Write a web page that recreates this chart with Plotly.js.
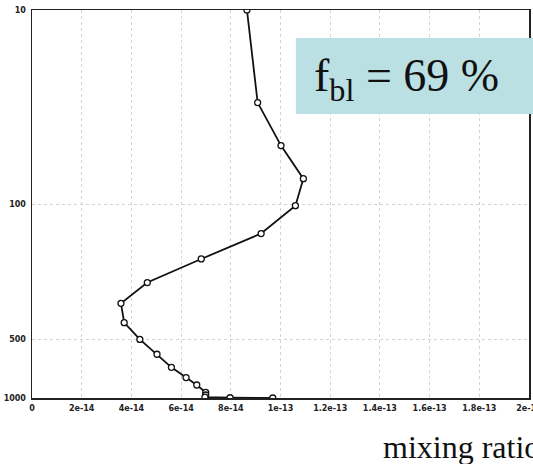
<!DOCTYPE html>
<html>
<head>
<meta charset="utf-8">
<script src="https://cdn.plot.ly/plotly-3.0.1.min.js"></script>
<style>html,body{margin:0;padding:0;background:#fff;overflow:hidden}#chart{width:533px;height:464px}</style>
</head>
<body>
<div id="chart"></div>
<script>
// mixing ratio values
const mixingRatio = [8.65e-14, 9.08e-14, 1.002e-13, 1.092e-13, 1.060e-13, 9.22e-14, 6.81e-14, 4.64e-14,
  3.58e-14, 3.71e-14, 4.34e-14, 5.03e-14, 5.61e-14, 6.20e-14, 6.63e-14, 6.99e-14, 6.99e-14, 6.96e-14, 7.97e-14, 9.69e-14];
// pressure levels (hPa)
const pressure = [10, 30, 50, 74, 102, 142, 192, 254, 325, 409, 499, 595, 695, 785, 857, 935, 965, 990, 997, 1000];
const xTickVals = [0, 2e-14, 4e-14, 6e-14, 8e-14, 1e-13, 1.2e-13, 1.4e-13, 1.6e-13, 1.8e-13, 2e-13];
const xTickText = ["0", "2e-14", "4e-14", "6e-14", "8e-14", "1e-13", "1.2e-13", "1.4e-13", "1.6e-13", "1.8e-13", "2e-13"];
const yTickVals = [10, 100, 500, 1000];
const yTickText = ["10", "100", "500", "1000"];
const boxLabel = "f<sub>bl</sub> = 69 %";
const xLabel = "mixing ratio";

const trace = {
  x: mixingRatio, y: pressure, type: 'scatter', mode: 'lines+markers',
  line: {color: '#111', width: 1.8},
  marker: {symbol: 'circle', size: 6, color: '#fff', line: {color: '#111', width: 1.3}},
  cliponaxis: true, hoverinfo: 'none'
};

const tickFont = {family: 'DejaVu Sans, Arial, sans-serif', size: 8, color: '#222', weight: 'bold'};

const layout = {
  width: 533, height: 464,
  margin: {l: 32, r: 4, t: 10, b: 66},
  paper_bgcolor: '#fff', plot_bgcolor: '#fff',
  showlegend: false,
  xaxis: {
    range: [0, 2e-13], tickmode: 'array', tickvals: xTickVals, ticktext: xTickText,
    showgrid: true, gridcolor: '#d4d4d4', griddash: 'dot', gridwidth: 1,
    showline: true, mirror: true, linecolor: '#222', linewidth: 1.5,
    ticks: '', tickfont: tickFont, zeroline: false, ticklabelstandoff: 2,
    ticklabeloverflow: 'allow'
  },
  yaxis: {
    type: 'log', range: [3, 1], tickmode: 'array', tickvals: yTickVals, ticktext: yTickText,
    showgrid: true, gridcolor: '#d4d4d4', griddash: 'dot', gridwidth: 1,
    showline: true, mirror: true, linecolor: '#222', linewidth: 1.5,
    ticks: '', tickfont: tickFont, zeroline: false, ticklabelstandoff: 3,
    ticklabeloverflow: 'allow'
  },
  shapes: [{
    type: 'rect', xref: 'paper', yref: 'paper',
    x0: 0.531, x1: 1.03, y0: 0.732, y1: 0.928,
    fillcolor: '#bbe0e3', line: {width: 0}, layer: 'above'
  }],
  annotations: [
    {text: boxLabel, xref: 'paper', yref: 'paper', x: 0.564, y: 0.822,
     xanchor: 'left', yanchor: 'middle', showarrow: false,
     font: {family: 'Liberation Serif, Times New Roman, serif', size: 46, color: '#111'}},
    {text: xLabel, xref: 'paper', yref: 'paper', x: (381 - 32) / 497, y: -0.074,
     xanchor: 'left', yanchor: 'top', showarrow: false,
     font: {family: 'Liberation Serif, Times New Roman, serif', size: 32, color: '#111'}}
  ]
};

Plotly.newPlot('chart', [trace], layout, {displayModeBar: false, staticPlot: true});
</script>
</body>
</html>
